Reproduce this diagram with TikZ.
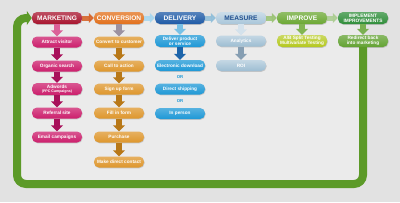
\documentclass[tikz,border=0pt]{standalone}
\usepackage{fontspec}
\setsansfont{Liberation Sans}
\usetikzlibrary{arrows.meta,positioning,shadows}
\definecolor{Paper}{HTML}{E2E2E2}
\definecolor{Panel}{HTML}{EBEBEB}
\definecolor{MktHead}{HTML}{A8142E}
\definecolor{MktItem}{HTML}{CC1E6C}
\definecolor{MktArrow}{HTML}{A8105A}
\definecolor{ConvHead}{HTML}{E2701C}
\definecolor{ConvItem}{HTML}{DE962C}
\definecolor{ConvArrow}{HTML}{B87818}
\definecolor{DelHead}{HTML}{1E5AA6}
\definecolor{DelItem}{HTML}{1E98D6}
\definecolor{DelArrow}{HTML}{1C64AA}
\definecolor{MeaHead}{HTML}{A9C6DA}
\definecolor{MeaText}{HTML}{1F4F8F}
\definecolor{MeaItem}{HTML}{9DBDD2}
\definecolor{MeaArrow}{HTML}{869EB2}
\definecolor{ImpHead}{HTML}{6CA834}
\definecolor{ImpItem}{HTML}{B4C81E}
\definecolor{ImplHead}{HTML}{2F8E3A}
\definecolor{ImplItem}{HTML}{62A232}
\definecolor{Loop}{HTML}{5C9A28}

\begin{document}
\begin{tikzpicture}[x=1pt,y=-1pt,>=Latex,
 pill/.style={rounded corners=5pt,minimum width=50pt,minimum height=11pt,inner sep=.5pt,align=center,text=white,
  font=\sffamily\bfseries\fontsize{4.7}{4.9}\selectfont,drop shadow={shadow xshift=.5pt,shadow yshift=-.8pt,opacity=.35}},
 head/.style={pill,minimum height=12pt,font=\sffamily\bfseries\fontsize{6.6}{6.6}\selectfont},
 down/.style={line width=6pt,-{Triangle[width=12pt,length=6pt]}},
 side/.style={line width=5pt,-{Triangle[width=10pt,length=5pt]},opacity=.85},
 ortext/.style={text=DelItem,font=\sffamily\bfseries\fontsize{4.3}{4.3}\selectfont,inner sep=0pt},
 loop/.style={line width=8pt,draw=Loop,rounded corners=9pt,-{Triangle[width=14pt,length=5pt]}}]
 \fill[Paper] (0,0) rectangle (400,202);
 \useasboundingbox (0,0) rectangle (400,202);
 \fill[Panel,rounded corners=6pt] (17,18) rectangle (363,184);
 % headers
 \node[head,top color=MktHead!75!white,bottom color=MktHead] (mkt) at (57,18) {MARKETING};
 \node[head,top color=ConvHead!75!white,bottom color=ConvHead] (conv) at (119,18) {CONVERSION};
 \node[head,top color=DelHead!75!white,bottom color=DelHead] (del) at (180,18) {DELIVERY};
 \node[head,top color=MeaHead!60!white,bottom color=MeaHead,text=MeaText] (mea) at (241,18) {MEASURE};
 \node[head,top color=ImpHead!75!white,bottom color=ImpHead] (imp) at (302,18) {IMPROVE};
 \node[head,top color=ImplHead!75!white,bottom color=ImplHead,font=\sffamily\bfseries\fontsize{4.8}{4.9}\selectfont] (impl) at (363,18) {IMPLEMENT\\IMPROVEMENTS};
 \draw[side,draw=ConvHead!80!MktHead] (mkt) -- (conv);
 \draw[side,draw=DelItem!40!white] (conv) -- (del);
 \draw[side,draw=MeaHead!80!DelItem] (del) -- (mea);
 \draw[side,draw=ImpHead!70!white] (mea) -- (imp);
 \draw[side,draw=ImplItem!55!white] (imp) -- (impl);
 % marketing
 \node[pill,top color=MktItem!75!white,bottom color=MktItem] (visit) at (57,42) {Attract visitor};
 \node[pill,top color=MktItem!75!white,bottom color=MktItem] (search) at (57,66) {Organic search};
 \node[pill,top color=MktItem!75!white,bottom color=MktItem,minimum height=12pt] (adw) at (57,89) {Adwords\\[-.3pt]{\fontsize{3.6}{3.8}\selectfont(PPC Campaigns)}};
 \node[pill,top color=MktItem!75!white,bottom color=MktItem] (refer) at (57,113) {Referral site};
 \node[pill,top color=MktItem!75!white,bottom color=MktItem] (email) at (57,137) {Email campaigns};
 \draw[down,draw=MktItem!70!white] (mkt) -- (visit);
 \draw[down,draw=MktArrow] (visit) -- (search);
 \draw[down,draw=MktArrow] (search) -- (adw);
 \draw[down,draw=MktArrow] (adw) -- (refer);
 \draw[down,draw=MktArrow] (refer) -- (email);
 % conversion
 \node[pill,top color=ConvItem!75!white,bottom color=ConvItem] (cust) at (119,42) {Convert to customer};
 \node[pill,top color=ConvItem!75!white,bottom color=ConvItem] (call) at (119,66) {Call to action};
 \node[pill,top color=ConvItem!75!white,bottom color=ConvItem] (sign) at (119,89) {Sign up form};
 \node[pill,top color=ConvItem!75!white,bottom color=ConvItem] (fill) at (119,113) {Fill in form};
 \node[pill,top color=ConvItem!75!white,bottom color=ConvItem] (buy) at (119,137) {Purchase};
 \node[pill,top color=ConvItem!75!white,bottom color=ConvItem] (contact) at (119,162) {Make direct contact};
 \draw[down,draw=MktHead!25!MeaHead!70!gray] (conv) -- (cust);
 \draw[down,draw=ConvArrow] (cust) -- (call);
 \draw[down,draw=ConvArrow] (call) -- (sign);
 \draw[down,draw=ConvArrow] (sign) -- (fill);
 \draw[down,draw=ConvArrow] (fill) -- (buy);
 \draw[down,draw=ConvArrow] (buy) -- (contact);
 % delivery
 \node[pill,top color=DelItem!75!white,bottom color=DelItem,minimum height=12pt] (prod) at (180,41) {Deliver product\\or service};
 \node[pill,top color=DelItem!75!white,bottom color=DelItem] (down) at (180,65.5) {Electronic download};
 \node[ortext] (or1) at (180,77.5) {OR};
 \node[pill,top color=DelItem!75!white,bottom color=DelItem] (ship) at (180,89) {Direct shipping};
 \node[ortext] (or2) at (180,101.5) {OR};
 \node[pill,top color=DelItem!75!white,bottom color=DelItem] (person) at (180,113.5) {In person};
 \draw[down,draw=DelItem!60!white] (del) -- (prod);
 \draw[down,draw=DelArrow] (prod) -- (down);
 % measure
 \node[pill,top color=MeaItem!60!white,bottom color=MeaItem] (ana) at (241,41) {Analytics};
 \node[pill,top color=MeaItem!60!white,bottom color=MeaItem] (roi) at (241,65.5) {ROI};
 \draw[down,draw=MeaHead!50!white] (mea) -- (ana);
 \draw[down,draw=MeaArrow] (ana) -- (roi);
 % improve
 \node[pill,top color=ImpItem!70!white,bottom color=ImpItem,minimum height=12pt] (ab) at (302,41) {A/B Split Testing\\Multivariate Testing};
 \draw[down,draw=ImpHead!85!white] (imp) -- (ab);
 % implement
 \node[pill,top color=ImplItem!75!white,bottom color=ImplItem,minimum height=12pt] (redir) at (363,41) {Redirect back\\into marketing};
 \draw[down,draw=ImplItem!85!white] (impl) -- (redir);
 \coordinate (br) at (363,184);
 \coordinate (bl) at (17,184);
 \coordinate (tl) at (17,18);
 \draw[loop] (redir.south) -- (br) -- (bl) -- (tl) -- (mkt.west);
\end{tikzpicture}
\end{document}
